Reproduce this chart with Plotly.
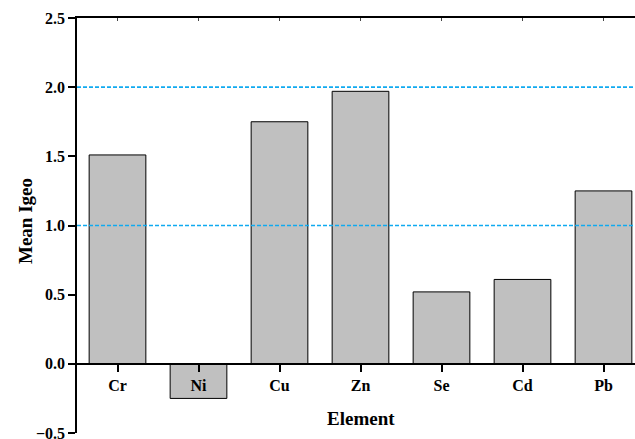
import plotly.graph_objects as go

elements = ["Cr", "Ni", "Cu", "Zn", "Se", "Cd", "Pb"]
mean_igeo = [1.51, -0.25, 1.75, 1.97, 0.52, 0.61, 1.25]
ref_lines = [1.0, 2.0]
y_ticks = [-0.5, 0.0, 0.5, 1.0, 1.5, 2.0, 2.5]

FONT = "Liberation Serif, Times New Roman, serif"
pos = list(range(len(elements)))

W, H = 635, 439
ML, MR, MT, MB = 77, 0, 18, 6
plot_h = H - MT - MB
plot_w = W - ML - MR
xr = [-0.5, -0.5 + plot_w / 81]

fig = go.Figure()
fig.add_trace(go.Bar(
    x=pos, y=mean_igeo, width=0.7,
    marker=dict(color="#c0c0c0", line=dict(color="black", width=1)),
    showlegend=False, hoverinfo="skip",
))
# invisible trace for top axis
fig.add_trace(go.Scatter(x=pos, y=mean_igeo, xaxis="x2", mode="markers",
                         marker=dict(opacity=0), showlegend=False, hoverinfo="skip"))

for v in ref_lines:
    fig.add_trace(go.Scatter(
        x=[xr[0], xr[1]], y=[v, v], mode="lines", xaxis="x2",
        line=dict(color="#10aaf0", width=1.6, dash="4px,2px"),
        showlegend=False, hoverinfo="skip", cliponaxis=False,
    ))

fig.update_layout(
    width=W, height=H,
    margin=dict(l=ML, r=MR, t=MT, b=MB, autoexpand=False),
    plot_bgcolor="white", paper_bgcolor="white",
    font=dict(family=FONT, color="black"),
    xaxis=dict(
        range=xr, anchor="free", position=1 / 6, automargin=False,
        tickvals=pos, ticktext=elements,
        showline=True, linecolor="black", linewidth=1.5,
        ticks="outside", ticklen=7, tickwidth=1.5, tickcolor="black",
        tickfont=dict(family=FONT, size=16, weight="bold"),
        showgrid=False, zeroline=False, ticklabeloverflow="allow",
    ),
    xaxis2=dict(
        range=xr, overlaying="x", side="top", anchor="y", automargin=False,
        tickvals=pos, showticklabels=False,
        showline=True, linecolor="black", linewidth=1.5,
        ticks="inside", ticklen=3, tickwidth=1, tickcolor="#444",
        showgrid=False, zeroline=False,
    ),
    yaxis=dict(
        range=[-0.5, 2.5], tickvals=y_ticks, tickformat=".1f", automargin=False,
        showline=True, linecolor="black", linewidth=1.5,
        ticks="outside", ticklen=7, tickwidth=1.5, tickcolor="black",
        tickfont=dict(family=FONT, size=16, weight="bold"),
        showgrid=False, zeroline=False, ticklabeloverflow="allow",
    ),
    annotations=[
        dict(text="Element", x=3, xref="x", y=(H - MB - 418) / plot_h, yref="paper",
             yanchor="middle", showarrow=False,
             font=dict(family=FONT, size=19, weight="bold")),
        dict(text="Mean Igeo", textangle=-90, x=(25 - ML) / plot_w, xref="paper",
             y=(H - MB - 221) / plot_h, yref="paper", xanchor="center", yanchor="middle",
             showarrow=False, font=dict(family=FONT, size=19, weight="bold")),
    ],
)

fig.write_html("out.html", config={"displayModeBar": False},
               post_script="document.body.style.margin='0';document.body.style.overflow='hidden';")
